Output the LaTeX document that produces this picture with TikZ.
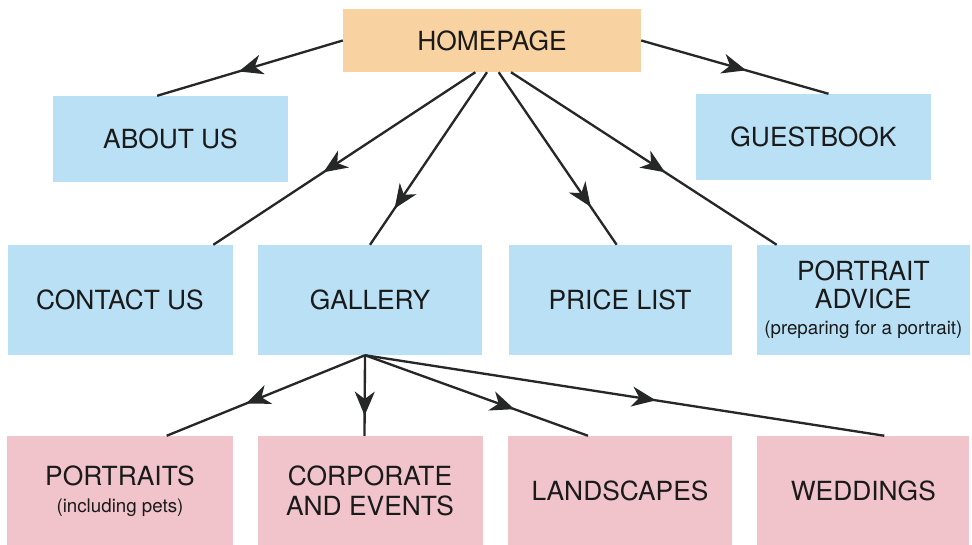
\documentclass[tikz,border=0pt]{standalone}
\usepackage{fontspec}
\setmainfont{TeX Gyre Heros}
\usepackage{tikz}
\usetikzlibrary{positioning}
\usetikzlibrary{calc,arrows.meta,decorations.markings}

\definecolor{homeorange}{HTML}{F9D2A2}
\definecolor{pageblue}{HTML}{B9E0F5}
\definecolor{galpink}{HTML}{F0C4CA}
\definecolor{linegrey}{HTML}{262828}
\definecolor{textgrey}{HTML}{1A1A1A}

\newcommand{\subtxt}[1]{{\fontsize{16}{18}\selectfont #1}}

\tikzset{
	box/.style      = {rectangle, inner sep=0pt, align=center, text=textgrey,
	                   font=\fontsize{22.5}{26}\selectfont},
	homebox/.style  = {box, fill=homeorange},
	bluebox/.style  = {box, fill=pageblue},
	pinkbox/.style  = {box, fill=galpink},
	link/.style     = {linegrey, line width=0.07cm, postaction={decorate},
	                   decoration={markings, mark=at position #1 with
	                   {\arrow{Stealth[length=0.72cm, width=0.6cm, inset=0.22cm]}}}},
	link/.default   = 0.55
}

\begin{document}
\begin{tikzpicture}

	% ------------------------------------------------
	% Ensure the dimensions of graphic are appropriate
	\useasboundingbox (0,0) rectangle (29.16,-16.35);

	% ------------------------------------------------
	% Relevant coordinates
	\coordinate (HomeC) at (14.76,-1.215);

	\path (HomeC) +(-9.645,-2.955) coordinate (AboutC);
	\path (HomeC) +( 9.645,-2.895) coordinate (GuestC);

	% Second row of pages
	\coordinate (ContactC) at (3.6,-9.00);
	\path (ContactC) +(7.50,0) coordinate (GalleryC);
	\path (GalleryC) +(7.50,0) coordinate (PriceC);
	\path (PriceC)   +(7.30,0) coordinate (AdviceC);

	% Gallery sub pages
	\path (ContactC)   +(0,-5.73) coordinate (PortraitsC);
	\path (PortraitsC) +(7.50,0)  coordinate (CorporateC);
	\path (CorporateC) +(7.50,0)  coordinate (LandscapesC);
	\path (LandscapesC)+(7.30,0)  coordinate (WeddingsC);

	%%%%%%%%%%%%%%%%%%%%%%%%%%%%%%%%%%%%%%%%%
	%Boxes
	\node[homebox, minimum width=8.94cm, minimum height=1.89cm] (Home) at (HomeC) {HOMEPAGE};

	\node[bluebox, minimum width=7.05cm, minimum height=2.58cm] (About) at (AboutC) {ABOUT US};
	\node[bluebox, minimum width=7.05cm, minimum height=2.58cm] (Guest) at (GuestC) {GUESTBOOK};

	\node[bluebox, minimum width=6.75cm, minimum height=3.30cm] (Contact) at (ContactC) {CONTACT US};
	\node[bluebox, minimum width=6.72cm, minimum height=3.30cm] (Gallery) at (GalleryC) {GALLERY};
	\node[bluebox, minimum width=6.69cm, minimum height=3.30cm] (Price)   at (PriceC)   {PRICE LIST};
	\node[bluebox, minimum width=6.39cm, minimum height=3.30cm] (Advice)  at (AdviceC)
		{PORTRAIT\\[-2pt]ADVICE\\[-4pt]\subtxt{(preparing for a portrait)}};

	\node[pinkbox, minimum width=6.78cm, minimum height=3.30cm] (Portraits)  at (PortraitsC)
		{PORTRAITS\\[-3pt]\subtxt{(including pets)}};
	\node[pinkbox, minimum width=6.75cm, minimum height=3.30cm] (Corporate)  at (CorporateC)
		{CORPORATE\\AND EVENTS};
	\node[pinkbox, minimum width=6.72cm, minimum height=3.30cm] (Landscapes) at (LandscapesC) {LANDSCAPES};
	\node[pinkbox, minimum width=6.36cm, minimum height=3.30cm] (Weddings)   at (WeddingsC)   {WEDDINGS};

	% Foot of the gallery box, all sub page links leave from here
	\coordinate (GalFoot) at ([xshift=-0.15cm]Gallery.south);

	%%%%%%%%%%%%%%%%%%%%%%%%%%%%%%%%%%%%%%%%%
	%Links
	\draw[link=0.56] (Home.west) -- ([xshift=-0.40cm]About.north);
	\draw[link=0.56] (Home.east) -- ([xshift= 0.45cm]Guest.north);

	\draw[link=0.58] ([xshift=-0.50cm]Home.south) -- ([xshift= 2.80cm]Contact.north);
	\draw[link=0.79] ([xshift=-0.15cm]Home.south) -- (Gallery.north);
	\draw[link=0.78] ([xshift= 0.20cm]Home.south) -- ([xshift=-0.10cm]Price.north);
	\draw[link=0.58] ([xshift= 0.57cm]Home.south) -- ([xshift=-2.60cm]Advice.north);

	\draw[link=0.60] (GalFoot) -- ([xshift= 1.40cm]Portraits.north);
	\draw[link=0.75] (GalFoot) -- ([xshift=-0.165cm]Corporate.north);
	\draw[link=0.67] (GalFoot) -- ([xshift=-0.96cm]Landscapes.north);
	\draw[link=0.56] (GalFoot) -- ([xshift= 0.63cm]Weddings.north);

\end{tikzpicture}
\end{document}
